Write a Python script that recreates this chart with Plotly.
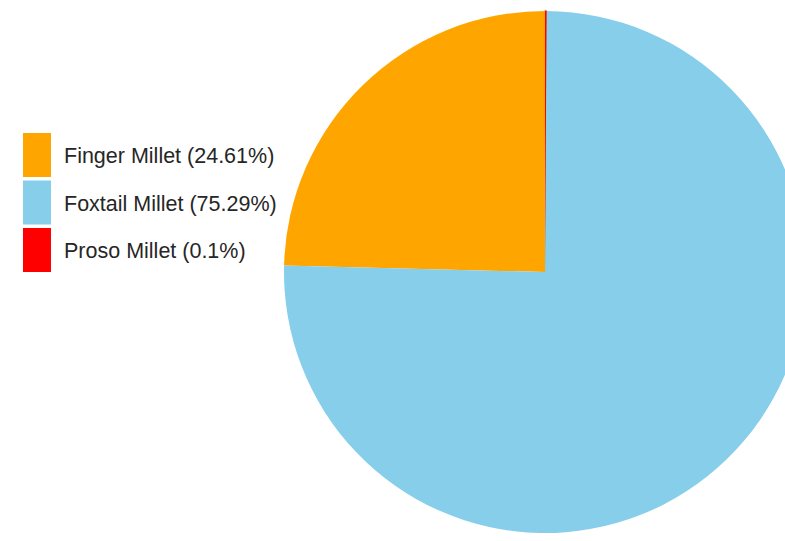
import plotly.graph_objects as go

# Millet share data (percent)
categories = ["Finger Millet", "Foxtail Millet", "Proso Millet"]
shares = [24.61, 75.29, 0.1]
colors = ["#FFA500", "#87CEEB", "#FF0000"]

# slices are laid out counterclockwise from 12 o'clock in this order
slice_order = [2, 0, 1]

W, H = 806, 541
PIE_CX, PIE_CY, PIE_R = 545, 272, 261

# only the hairline Proso slice gets an outline so it stays visible
outline_w = [1.2 if categories[i] == "Proso Millet" else 0 for i in slice_order]

fig = go.Figure(
    go.Pie(
        labels=[categories[i] for i in slice_order],
        values=[shares[i] for i in slice_order],
        marker=dict(
            colors=[colors[i] for i in slice_order],
            line=dict(width=outline_w, color=[colors[i] for i in slice_order]),
        ),
        sort=False,
        direction="counterclockwise",
        rotation=0,
        textinfo="none",
        showlegend=False,
        domain=dict(
            x=[(PIE_CX - PIE_R) / W, (PIE_CX + PIE_R) / W],
            y=[(H - PIE_CY - PIE_R) / H, (H - PIE_CY + PIE_R) / H],
        ),
    )
)

# hand-built legend: tall colour swatches with labels showing the share
shapes, annotations = [], []
sw_x0, sw_x1 = 23, 51
row_top, row_h, row_gap = 133, 44, 47.5
for k, (name, val, col) in enumerate(zip(categories, shares, colors)):
    y0 = row_top + k * row_gap
    y1 = y0 + row_h
    shapes.append(dict(
        type="rect", xref="paper", yref="paper",
        x0=sw_x0 / W, x1=sw_x1 / W, y0=1 - y1 / H, y1=1 - y0 / H,
        fillcolor=col, line=dict(width=0),
    ))
    annotations.append(dict(
        xref="paper", yref="paper", x=62 / W, y=1 - (y0 + row_h / 2 + 1) / H,
        xanchor="left", yanchor="middle", showarrow=False,
        text=f"{name} ({val:g}%)",
        font=dict(family="Liberation Sans, Arial", size=21.5, color="#262626"),
    ))

fig.update_layout(
    width=W, height=H,
    margin=dict(l=0, r=0, t=0, b=0),
    paper_bgcolor="white",
    plot_bgcolor="white",
    shapes=shapes,
    annotations=annotations,
)

fig.write_html(
    "out.html",
    post_script="document.documentElement.style.overflow='hidden';document.body.style.overflow='hidden';document.body.style.margin='0';",
)
